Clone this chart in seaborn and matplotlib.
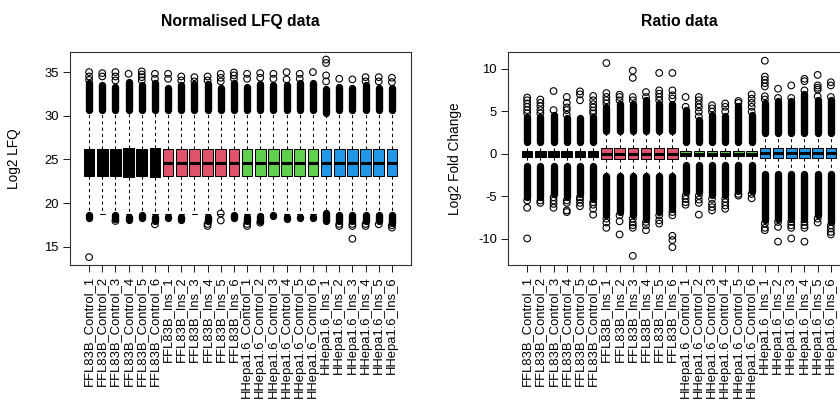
import numpy as np
import pandas as pd
import matplotlib
matplotlib.use("Agg")
import matplotlib.pyplot as plt
import seaborn as sns

# ---------------- data ----------------
conditions = ["FFL83B_Control", "FFL83B_Ins", "HHepa1.6_Control", "HHepa1.6_Ins"]
samples = [f"{c}_{k}" for c in conditions for k in range(1, 7)]
group_colors = ["black", "#DF536B", "#61D04F", "#2297E6"]
box_colors = [group_colors[i // 6] for i in range(24)]

# Normalised LFQ (left panel): box summary
lfq_q1 = [23.15, 23.15, 23.15, 23.0, 23.15, 23.0, 23.15, 23.15, 23.15, 23.15, 23.15, 23.15,
          23.1, 23.1, 23.1, 23.1, 23.1, 23.1, 23.15, 23.15, 23.15, 23.15, 23.15, 23.15]
lfq_med = [24.6] * 24
lfq_q3 = [26.15, 26.15, 26.15, 26.3, 26.15, 26.3, 26.15, 26.15, 26.15, 26.15, 26.15, 26.15,
          26.15, 26.15, 26.15, 26.15, 26.15, 26.15, 26.15, 26.15, 26.15, 26.15, 26.15, 26.15]
lfq_wlo = [18.7] * 24
lfq_whi = [30.5] * 24
# dense outlier columns (from-to) and isolated outliers
lfq_up_lo = [30.6] * 18 + [30.3, 30.6, 30.6, 30.6, 30.6, 30.6]
lfq_up_hi = [33.8, 33.5, 33.3, 33.9, 33.5, 33.7, 33.2, 33.5, 33.6, 33.6, 33.2, 33.7,
             33.3, 33.6, 33.5, 33.5, 33.7, 33.7, 33.1, 33.3, 33.2, 33.5, 33.2, 33.2]
lfq_up_pts = [[35.0, 34.5, 34.1], [34.88, 34.5], [35.0, 34.5, 34.04], [34.8],
              [35.08, 34.73, 34.42, 34.04], [34.8, 34.23], [34.8, 34.23], [34.5, 34.04],
              [34.42, 33.93], [34.5, 34.04], [34.8, 34.35, 33.93], [34.95, 34.62, 34.23],
              [34.8, 34.23], [34.88, 34.35], [34.8, 34.23], [35.0, 34.16],
              [34.8, 34.23], [35.0], [36.43, 36.04, 34.62, 33.93], [34.23],
              [34.16], [34.42, 33.93], [34.42, 33.93], [34.35, 33.85]]
lfq_dn_hi = [18.65, 18.65, 18.65, 18.4, 18.65, 18.4, 18.4, 18.4, 18.5, 18.4, np.nan, 18.65,
             18.4, 18.46, 18.6, 18.4, 18.4, 18.4, 18.84, 18.65, 18.65, 18.65, 18.65, 18.65]
lfq_dn_lo = [18.3, 18.6, 18.2, 18.0, 18.3, 17.9, 18.27, 18.0, 18.46, 17.9, np.nan, 18.3,
             17.9, 17.9, 18.46, 18.13, 18.27, 18.27, 17.94, 17.9, 17.9, 17.9, 17.9, 17.7]
lfq_dn_pts = [[13.8], [], [17.94], [], [], [17.56], [], [], [], [17.6, 17.37], [18.8, 18.0], [],
              [17.6, 17.37], [17.75], [], [], [], [], [], [17.6, 17.37],
              [17.6, 17.37, 15.9], [17.6, 17.37], [17.56], [17.45, 17.18]]

# Ratio data (right panel)
ratio_q1 = [-0.35] * 6 + [-0.65] * 6 + [-0.3] * 6 + [-0.55] * 6
ratio_med = [0.0] * 18 + [0.05] * 6
ratio_q3 = [0.3] * 6 + [0.7] * 6 + [0.28] * 6 + [0.65] * 6
ratio_wlo = [-1.3] * 6 + [-2.5] * 6 + [-1.15] * 6 + [-2.2] * 6
ratio_whi = [1.3] * 6 + [2.6] * 6 + [1.25] * 6 + [2.35] * 6
ratio_up_lo = [1.45] * 6 + [2.7] * 6 + [1.4] * 6 + [2.45] * 6
ratio_up_hi = [4.37, 4.37, 4.56, 4.17, 4.17, 4.37, 5.53, 5.91, 5.91, 6.30, 5.91, 5.91,
               5.14, 3.98, 4.56, 4.44, 5.6, 4.55, 6.0, 6.2, 6.2, 7.1, 6.4, 6.3]
ratio_up_pts = [[6.63, 6.31, 5.93, 5.54, 5.15, 4.77], [6.40, 6.01, 5.62, 5.15, 4.77], [7.40, 5.15],
                [6.70, 6.01, 5.47, 5.15, 4.6], [7.36, 7.01, 6.31], [6.82, 6.31, 5.85, 5.47, 5.08, 4.77],
                [10.70, 7.16, 6.70, 6.31, 5.93], [6.97, 6.70, 6.3], [9.80, 8.95, 6.70, 6.3],
                [7.28, 6.7], [9.53, 7.48, 7.09, 6.70, 6.3], [9.53, 7.48, 6.90, 6.51],
                [6.70, 5.54], [6.70, 6.31, 5.85, 5.47, 4.96, 4.4], [5.74, 5.35, 4.96],
                [5.93, 5.54, 5.0], [6.23, 6.0], [7.0, 6.5, 6.0, 5.54, 4.96],
                [10.97, 9.1, 8.72, 8.33, 7.94, 6.78, 6.4], [7.67, 6.58], [8.06, 6.58],
                [8.84, 8.56, 7.48], [9.3, 8.06, 7.79, 7.56, 6.78], [8.44, 8.06, 6.7]]
ratio_dn_hi = [-1.45] * 6 + [-2.6] * 6 + [-1.3] * 6 + [-2.35] * 6
ratio_dn_lo = [-5.1, -5.1, -4.7, -5.1, -4.7, -5.3, -7.24, -6.85, -7.24, -7.63, -6.85, -6.46,
               -4.53, -4.53, -4.91, -4.91, -4.33, -4.33, -7.82, -7.63, -7.63, -7.63, -7.24, -8.02]
ratio_dn_pts = [[-5.5, -6.36, -9.97], [-5.5, -5.78], [-5.12, -5.51, -5.9, -6.36],
                [-5.5, -5.78, -6.67, -6.86], [-5.12, -5.39, -5.78, -6.17], [-5.7, -6.0, -6.48, -7.17],
                [-7.64, -8.1, -8.72], [-7.25, -7.95, -9.5], [-7.64, -8.1, -8.42, -8.72, -12.02],
                [-8.03, -8.42, -9.0], [-7.25, -7.84, -8.22], [-6.86, -7.25, -9.66, -10.16, -11.0],
                [-4.93, -5.31, -5.7, -6.0], [-4.93, -5.39, -5.78, -7.17], [-5.31, -5.9, -6.28, -6.67],
                [-5.31, -5.7, -6.09, -6.48], [-4.73, -4.93], [-4.73, -5.24],
                [-8.22, -8.72, -9.0], [-8.03, -8.61, -10.35], [-8.03, -8.42, -8.72, -9.97],
                [-8.03, -8.42, -8.72, -10.35], [-7.64, -8.1], [-8.42, -8.8, -9.2, -9.5]]

lfq_ticks = [15, 20, 25, 30, 35]
ratio_ticks = [-10, -5, 0, 5, 10]

# ---------------- style ----------------
sns.set_style("ticks")
plt.rcParams["font.family"] = ["Liberation Sans", "DejaVu Sans"]
plt.rcParams["text.color"] = "black"
plt.rcParams["axes.labelcolor"] = "black"
plt.rcParams["xtick.color"] = "black"
plt.rcParams["ytick.color"] = "black"
FS = 9.4

fig = plt.figure(figsize=(8.4, 4.01), dpi=100)
ax_l = fig.add_axes([70 / 840, 136 / 401, 341 / 840, 213 / 401])
ax_r = fig.add_axes([508 / 840, 136 / 401, 342 / 840, 213 / 401])


def panel(ax, q1, med, q3, wlo, whi, up_lo, up_hi, up_pts, dn_hi, dn_lo, dn_pts,
          ylim, yticks, title, ylabel, ylab_x):
    rows = []
    for i, s in enumerate(samples):
        for v in (wlo[i], q1[i], med[i], q3[i], whi[i]):
            rows.append((s, v))
    df = pd.DataFrame(rows, columns=["sample", "value"])
    sns.boxplot(data=df, x="sample", y="value", hue="sample", order=samples,
                hue_order=samples, palette=box_colors, saturation=1, dodge=False,
                width=0.8, whis=(0, 100), showfliers=False, linecolor="black",
                linewidth=0.75, legend=False, ax=ax,
                medianprops=dict(linewidth=2.2),
                whiskerprops=dict(linestyle=(0, (3, 3))))
    # dense outlier columns
    for i in range(len(samples)):
        for lo, hi in ((up_lo[i], up_hi[i]), (dn_lo[i], dn_hi[i])):
            if np.isnan(lo) or np.isnan(hi):
                continue
            ax.plot([i, i], [lo, hi], color="black", lw=5.3,
                    solid_capstyle="round", zorder=3)
    xs, ys = [], []
    for i in range(len(samples)):
        for v in up_pts[i] + dn_pts[i]:
            xs.append(i)
            ys.append(v)
    ax.scatter(xs, ys, s=23, facecolors="none", edgecolors="black",
               linewidths=0.8, zorder=4)

    ax.set_xlim(-1.45, len(samples) - 1 + 1.45)
    ax.set_ylim(*ylim)
    ax.set_yticks(yticks)
    ax.set_yticklabels([str(t) for t in yticks], fontsize=FS)
    ax.set_xticks(range(len(samples)))
    ax.set_xticklabels(samples, rotation=90, fontsize=FS)
    ax.tick_params(axis="both", direction="out", length=5, width=0.75,
                   color="#222222", labelcolor="black", pad=3)
    for sp in ax.spines.values():
        sp.set_visible(True)
        sp.set_color("#333333")
        sp.set_linewidth(0.8)
    ax.set_xlabel("")
    ax.set_ylabel(ylabel, fontsize=FS + 0.4, color="black")
    ax.yaxis.set_label_coords(ylab_x, 0.5)
    ax.set_title(title, fontsize=11.3, fontweight="bold", pad=19, color="black")
    ax.grid(False)


panel(ax_l, lfq_q1, lfq_med, lfq_q3, lfq_wlo, lfq_whi, lfq_up_lo, lfq_up_hi, lfq_up_pts,
      lfq_dn_hi, lfq_dn_lo, lfq_dn_pts, (12.9, 37.3), lfq_ticks,
      "Normalised LFQ data", "Log2 LFQ", -0.145)
panel(ax_r, ratio_q1, ratio_med, ratio_q3, ratio_wlo, ratio_whi, ratio_up_lo, ratio_up_hi,
      ratio_up_pts, ratio_dn_hi, ratio_dn_lo, ratio_dn_pts, (-13.1, 12.0), ratio_ticks,
      "Ratio data", "Log2 Fold Change", -0.135)

fig.savefig("out.png", dpi=100)
